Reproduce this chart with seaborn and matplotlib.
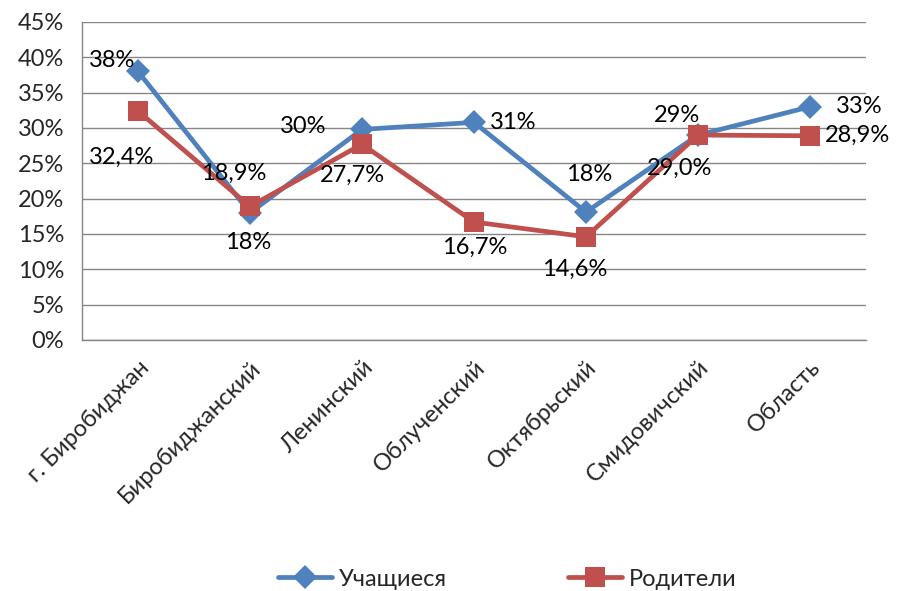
import matplotlib
matplotlib.use('Agg')
import matplotlib.pyplot as plt
from matplotlib.lines import Line2D
import seaborn as sns
import pandas as pd

districts = ['г. Биробиджан', 'Биробиджанский', 'Ленинский', 'Облученский',
             'Октябрьский', 'Смидовичский', 'Область']
students = [38.0, 18.0, 29.8, 30.8, 18.1, 29.0, 33.0]
parents = [32.4, 18.9, 27.7, 16.7, 14.6, 29.0, 28.9]
student_labels = ['38%', '18%', '30%', '31%', '18%', '29%', '33%']
parent_labels = ['32,4%', '18,9%', '27,7%', '16,7%', '14,6%', '29,0%', '28,9%']

# label offsets in pixels, picked by eye from the original
student_offsets = [(-26, 11), (-2, -30), (-59, 3), (39, 0), (3, 38), (-21, 20), (49, 0)]
parent_offsets = [(-16, -46), (-16, 33), (-10, -31), (1, -25), (-11, -33), (-18, -33), (47, 0)]

sns.set_theme(style='white')
plt.rcParams['font.family'] = ['Lato', 'DejaVu Sans']
FS = 17

df = pd.DataFrame({
    'pos': list(range(len(districts))) * 2,
    'value': students + parents,
    'group': ['Учащиеся'] * len(districts) + ['Родители'] * len(districts),
})

blue = '#4F81BD'
red = '#C0504D'

fig = plt.figure(figsize=(9.06, 5.91), dpi=100)
ax = fig.add_axes([82 / 906, 1 - 340 / 591, 784 / 906, 318 / 591])

sns.lineplot(data=df, x='pos', y='value', hue='group', style='group',
             palette={'Учащиеся': blue, 'Родители': red},
             markers={'Учащиеся': 'D', 'Родители': 's'},
             dashes=False, linewidth=3.4, markersize=12, markeredgewidth=0,
             ax=ax, legend=False)
# bigger squares for parents
for line in ax.get_lines():
    if matplotlib.colors.to_hex(line.get_color()) == red.lower():
        line.set_markersize(14)

for i, (v, t, o) in enumerate(zip(students, student_labels, student_offsets)):
    ax.annotate(t, (i, v), xytext=o, textcoords='offset pixels',
                ha='center', va='center', fontsize=FS, color='black')
for i, (v, t, o) in enumerate(zip(parents, parent_labels, parent_offsets)):
    ax.annotate(t, (i, v), xytext=o, textcoords='offset pixels',
                ha='center', va='center', fontsize=FS, color='black')

ax.set_xlim(-0.5, len(districts) - 0.5)
ax.set_ylim(0, 45)
ax.set_yticks(range(0, 50, 5))
ax.set_yticklabels([f'{v}%' for v in range(0, 50, 5)], fontsize=FS)
ax.set_xticks(range(len(districts)))
ax.set_xticklabels(districts, rotation=45, ha='right', rotation_mode='anchor', fontsize=FS)
ax.set_xticks([i - 0.5 for i in range(len(districts) + 1)], minor=True)
ax.tick_params(axis='x', which='major', length=0, pad=12)
ax.tick_params(axis='x', which='minor', length=5, width=1, color='#868686', direction='out')
ax.tick_params(axis='y', length=7, width=1, color='#868686', pad=6)
ax.set_xlabel('')
ax.set_ylabel('')
ax.grid(axis='y', color='#868686', linewidth=1)
ax.set_axisbelow(True)
for side in ['top', 'right']:
    ax.spines[side].set_visible(False)
for side in ['left', 'bottom']:
    ax.spines[side].set_color('#868686')
    ax.spines[side].set_linewidth(1)

handles = [
    Line2D([], [], color=blue, lw=3.4, marker='D', markersize=12, markeredgewidth=0),
    Line2D([], [], color=red, lw=3.4, marker='s', markersize=14, markeredgewidth=0),
]
fig.legend(handles, ['Учащиеся', 'Родители'], loc='center', bbox_to_anchor=(0.56, 1 - 579 / 591),
           ncol=2, frameon=False, fontsize=FS, handlelength=2.3, handletextpad=0.3,
           columnspacing=5.1)

fig.savefig('out.png', dpi=100)
